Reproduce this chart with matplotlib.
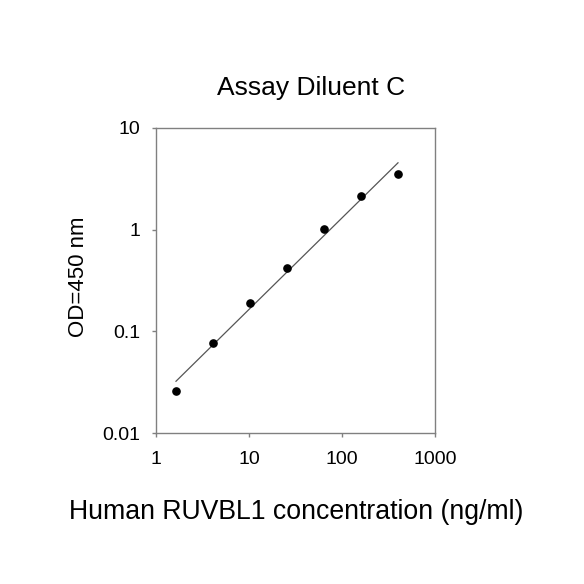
import numpy as np
import matplotlib
matplotlib.use('Agg')
import matplotlib.pyplot as plt
from matplotlib.ticker import FixedLocator, FixedFormatter, NullLocator

plt.rcParams['font.family'] = ['Liberation Sans', 'DejaVu Sans']

# standard curve
conc = [1.64, 4.1, 10.24, 25.6, 64, 160, 400]
od = [0.0256, 0.0767, 0.192, 0.421, 1.01, 2.14, 3.52]

x_ticks = [1, 10, 100, 1000]
x_labels = ['1', '10', '100', '1000']
y_ticks = [0.01, 0.1, 1, 10]
y_labels = ['0.01', '0.1', '1', '10']

title = 'Assay Diluent C'
xlabel = 'Human RUVBL1 concentration (ng/ml)'
ylabel = 'OD=450 nm'

W = 584
fig = plt.figure(figsize=(5.84, 5.84), dpi=100)
ax = fig.add_axes([156/W, 1 - 433/W, 279/W, 305/W])

# power-law fit on log-log scale
lx = np.log10(conc); ly = np.log10(od)
k, b = np.polyfit(lx, ly, 1)
xf = np.array([conc[0], conc[-1]])
ax.plot(xf, 10**(b + k*np.log10(xf)), color='#555555', lw=0.9, zorder=2)
ax.plot(conc, od, 'o', color='black', ms=5.2, zorder=3)

ax.set_xscale('log'); ax.set_yscale('log')
ax.set_xlim(1, 1000); ax.set_ylim(0.01, 10)
ax.xaxis.set_major_locator(FixedLocator(x_ticks))
ax.xaxis.set_major_formatter(FixedFormatter(x_labels))
ax.yaxis.set_major_locator(FixedLocator(y_ticks))
ax.yaxis.set_major_formatter(FixedFormatter(y_labels))
ax.xaxis.set_minor_locator(NullLocator())
ax.yaxis.set_minor_locator(NullLocator())

for s in ax.spines.values():
    s.set_color('#808080'); s.set_linewidth(1.0)
ax.tick_params(direction='out', length=3, width=1.0, color='#808080',
               labelsize=14, labelcolor='black')
ax.tick_params(axis='x', pad=10)
ax.tick_params(axis='y', pad=8)

fig.text(311/W, 1 - 95/W, title, ha='center', va='baseline', fontsize=19)
fig.text(296/W, 1 - 519/W, xlabel, ha='center', va='baseline', fontsize=19.2)
fig.text(78/W, 1 - 277/W, ylabel, ha='center', va='center', rotation=90, fontsize=16)

fig.savefig('out.png', dpi=100, facecolor='white')
